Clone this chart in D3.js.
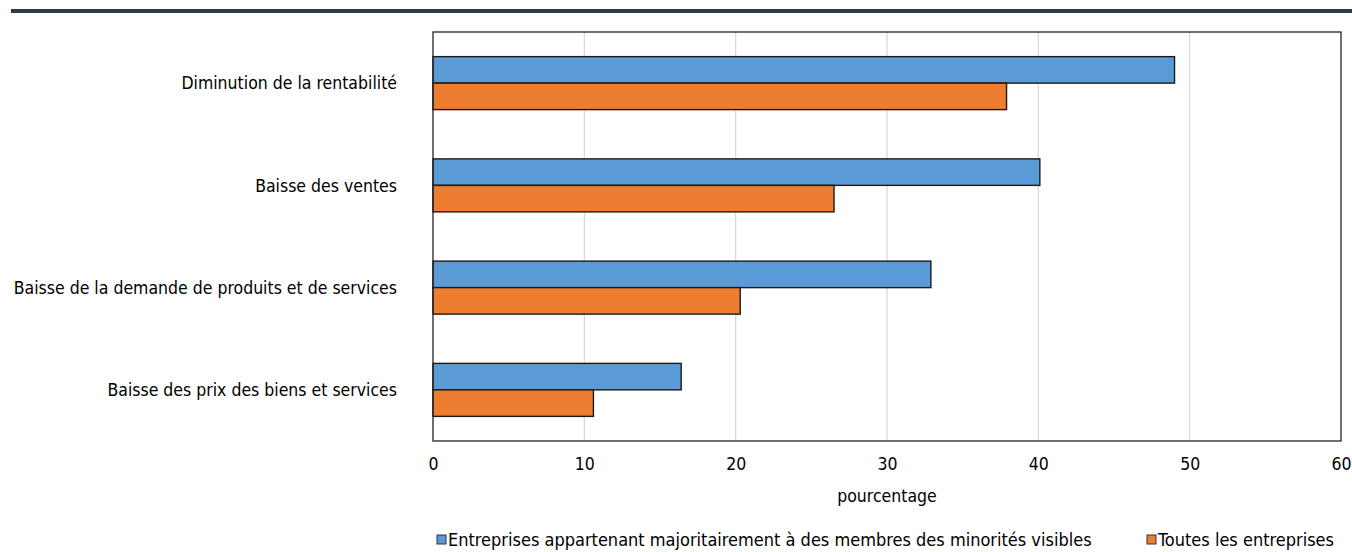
<!DOCTYPE html>
<html>
  <head>
    <meta charset="utf-8">
    <style type="text/css">
      body { margin: 0; background: #fff; }
      text { font-family: "DejaVu Sans Condensed", "Liberation Sans Narrow", sans-serif; fill: #000; }
    </style>
  </head>
  <body>
    <svg id="chart" width="1352" height="552"></svg>
    <script src="https://d3js.org/d3.v7.min.js"></script>
    <script>
      // categories and series values
      const categories = [
        "Diminution de la rentabilité",
        "Baisse des ventes",
        "Baisse de la demande de produits et de services",
        "Baisse des prix des biens et services"
      ];
      const seriesNames = [
        "Entreprises appartenant majoritairement à des membres des minorités visibles",
        "Toutes les entreprises"
      ];
      const minorites = [49.0, 40.1, 32.9, 16.4];
      const toutes = [37.9, 26.5, 20.3, 10.6];
      const xTicks = [0, 10, 20, 30, 40, 50, 60];
      const colors = ["#5b9bd5", "#ed7d31"];

      const svg = d3.select("#chart");
      const m = { left: 433, right: 1341, top: 32, bottom: 441 };

      // top rule
      svg.append("rect")
        .attr("x", 11).attr("y", 9)
        .attr("width", 1341).attr("height", 4)
        .attr("fill", "#2e3a48");

      const x = d3.scaleLinear().domain([0, 60]).range([m.left, m.right]);
      const y = d3.scaleBand().domain(categories).range([m.top, m.bottom]);
      const y1 = d3.scaleBand().domain([0, 1]).range([0, y.bandwidth()]).paddingOuter(0.93);

      // gridlines
      svg.append("g").selectAll("line").data(xTicks.slice(1, -1)).enter().append("line")
        .attr("x1", (d) => x(d)).attr("x2", (d) => x(d))
        .attr("y1", m.top).attr("y2", m.bottom)
        .attr("stroke", "#d9d9d9").attr("stroke-width", 1.3);

      const rows = categories.map((c, i) => ({ cat: c, vals: [minorites[i], toutes[i]] }));

      const groups = svg.append("g").selectAll("g").data(rows).enter().append("g")
        .attr("transform", (d) => `translate(0,${y(d.cat)})`);

      groups.selectAll("rect").data((d) => d.vals).enter().append("rect")
        .attr("x", x(0))
        .attr("y", (d, i) => y1(i))
        .attr("width", (d) => x(d) - x(0))
        .attr("height", y1.bandwidth())
        .attr("fill", (d, i) => colors[i])
        .attr("stroke", "#1a1a1a")
        .attr("stroke-width", 1.4);

      // frame
      svg.append("rect")
        .attr("x", m.left).attr("y", m.top)
        .attr("width", m.right - m.left).attr("height", m.bottom - m.top)
        .attr("fill", "none").attr("stroke", "#222").attr("stroke-width", 1.3);

      // category labels
      svg.append("g").selectAll("text").data(categories).enter().append("text")
        .attr("x", 397)
        .attr("y", (d) => y(d) + y.bandwidth() / 2)
        .attr("dy", "0.35em")
        .attr("text-anchor", "end")
        .attr("font-size", 17.5)
        .text((d) => d);

      // x axis
      const xAxis = svg.append("g")
        .attr("transform", `translate(0,${m.bottom})`)
        .call(d3.axisBottom(x).tickValues(xTicks).tickSize(0).tickPadding(17));
      xAxis.select(".domain").remove();
      xAxis.selectAll("text").attr("font-size", 17.5).attr("font-family", null).attr("fill", "#000");

      svg.append("text")
        .attr("x", (m.left + m.right) / 2)
        .attr("y", 502)
        .attr("text-anchor", "middle")
        .attr("font-size", 17.5)
        .text("pourcentage");

      // legend
      const legendX = [437, 1147];
      const legend = svg.append("g").selectAll("g").data(seriesNames).enter().append("g")
        .attr("transform", (d, i) => `translate(${legendX[i]},535)`);
      legend.append("rect")
        .attr("width", 9).attr("height", 9)
        .attr("fill", (d, i) => colors[i])
        .attr("stroke", "#333").attr("stroke-width", 1);
      legend.append("text")
        .attr("x", 11).attr("y", 5).attr("dy", "0.35em")
        .attr("font-size", 18)
        .text((d) => d);
    </script>
  </body>
</html>
